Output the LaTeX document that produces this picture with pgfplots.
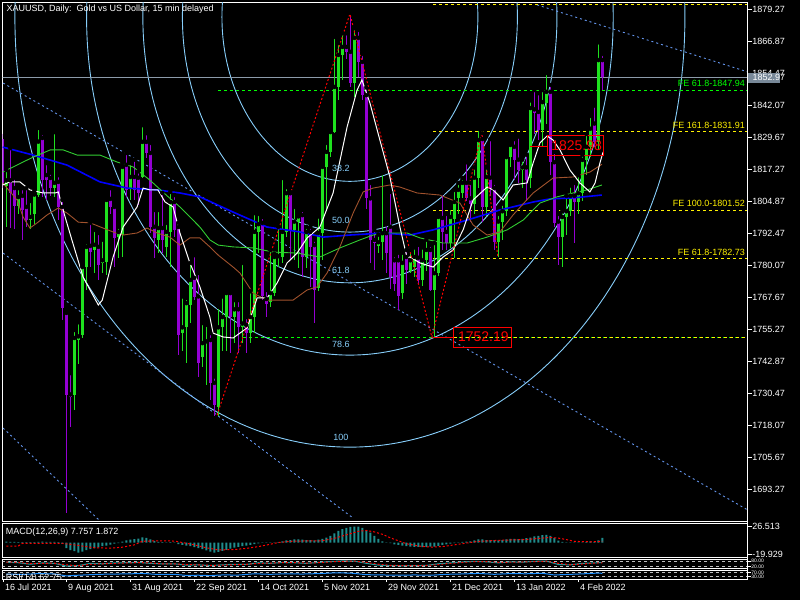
\documentclass[border=0pt]{standalone}
\usepackage{fontspec}
\setmainfont{Liberation Sans}
\usepackage{pgfplots}
\usepackage{pgfplotstable}
\pgfplotsset{compat=1.18}

\definecolor{cup}{RGB}{30,225,30}
\definecolor{cdn}{RGB}{148,0,211}
\definecolor{arcc}{RGB}{135,206,250}
\definecolor{chan}{RGB}{100,149,237}
\definecolor{masienna}{RGB}{160,82,45}
\definecolor{magreen}{RGB}{50,205,50}
\definecolor{mablue}{RGB}{0,0,255}
\definecolor{macdteal}{RGB}{32,140,140}
\definecolor{pricegray}{RGB}{140,155,170}
\definecolor{boxgray}{RGB}{120,136,152}
\definecolor{fegreen}{RGB}{0,255,0}
\definecolor{lvl}{RGB}{190,190,190}
\definecolor{rsiblue}{RGB}{30,144,255}

\newcommand{\ft}{\fontsize{9}{10}\selectfont}
\newcommand{\fs}{\fontsize{5}{5.5}\selectfont}
\newcommand{\fb}{\fontsize{14}{15}\selectfont}

\pgfplotstableread{
i O H L C
0 1811 1817 1795 1813
3 1803 1810 1800 1806.5
6 1797.6 1805 1794 1798.8
7 1800 1809 1796 1807.5
8 1807.5 1833.3 1806.7 1828
12 1810 1831.7 1806.7 1812
17 1729.8 1755 1724 1751.9
18 1751 1758 1742 1752.5
19 1753 1780 1752 1779.4
20 1779.4 1789 1770.5 1787.2
22 1786 1793.8 1777 1788
24 1781 1790 1777 1782
25 1781.3 1806.6 1776.3 1805.4
28 1791 1795 1783 1793
29 1791.8 1819.7 1783.3 1818.2
31 1810 1819.7 1805.4 1814.3
34 1814.3 1834.4 1813.9 1827.9
38 1790 1801.5 1784.8 1794.5
40 1787.2 1796.5 1783.3 1793
41 1793 1808.5 1779.4 1804.6
44 1754 1768 1747 1756
45 1756 1767.4 1742.2 1765.4
46 1764.7 1781 1757.7 1774.4
49 1744.5 1757.7 1740.7 1749.9
50 1750 1757 1733.7 1750.6
53 1725 1764 1721.8 1756
54 1756 1768 1747 1760
55 1760 1770.5 1747 1769.3
57 1760 1766.6 1750 1763
59 1756 1781 1750 1757.5
61 1754 1770 1750 1760
62 1760 1800.3 1754 1793
63 1793 1800 1785 1796
66 1766 1786 1764 1769.3
67 1769.3 1784.5 1768 1783.3
68 1783 1795 1779.4 1783.6
69 1783.3 1813.9 1781 1793
70 1793 1810.4 1791 1808
72 1793.8 1802.7 1782.1 1797
73 1797 1800 1779 1799
75 1783.3 1795 1779 1793
78 1771.3 1799 1770 1792.6
79 1792.6 1819.7 1782 1818.2
80 1818 1827.5 1801.5 1824
81 1824 1832.9 1822 1831.7
82 1831.7 1868.6 1831.3 1849.2
83 1849.2 1866.2 1844.1 1861.6
84 1861.6 1870 1851.9 1864.7
87 1850.7 1872 1845.3 1868.2
93 1787.6 1792 1785 1789
94 1789 1815.8 1782 1792.5
99 1769.3 1785 1767 1781
101 1778 1786 1777 1782
102 1779.4 1787 1775.6 1783.3
104 1774.4 1787 1772 1782
105 1782 1790 1778 1786
107 1770.5 1788.7 1752.2 1777
108 1777 1800 1776 1798.8
111 1788.7 1802.3 1786.8 1798.8
112 1798 1809.3 1782.9 1804.6
113 1806 1812 1800 1809.3
114 1808 1813.9 1806 1812
117 1804 1818 1800 1814
118 1814 1833 1810 1828.6
120 1802.7 1818 1799 1814.3
123 1789 1800 1783.3 1797
124 1797 1804 1790 1801
125 1801 1823 1799 1822
126 1822 1828 1818 1826.7
129 1817 1821 1810 1818
131 1814 1844 1810 1841
134 1832.5 1848 1826 1843.3
135 1843 1854.6 1835 1847.3
139 1791 1801 1779.4 1798.8
140 1798.8 1807 1792 1801
141 1801 1811 1799 1807
143 1804.5 1815 1800 1808
144 1808 1823 1805 1820.9
145 1820.9 1831 1815 1826
146 1826 1838 1822 1833
148 1828 1866.5 1825 1859.6
}\bull

\pgfplotstableread{
i O H L C
-1 1829 1831 1810 1812
1 1813 1825.5 1794.5 1808
2 1810 1814 1794 1803
4 1807 1810 1790 1801.5
5 1802.7 1810 1795 1797.6
9 1829.4 1831.3 1806.7 1813
10 1815 1819.7 1805.4 1813
11 1813.9 1816 1807 1810
13 1812.4 1815 1797.6 1802.7
14 1802.7 1805.4 1758.9 1763.5
15 1761.6 1762 1684 1729.8
16 1730 1738.3 1717.4 1729
21 1787.6 1796.5 1779.4 1785.2
23 1787.2 1792.6 1774.4 1780.2
26 1805.8 1810 1800 1802.7
27 1802.7 1803.5 1779.4 1790.7
30 1819 1823.6 1806.7 1809.3
32 1814.3 1821 1805.4 1809.3
33 1814 1816.5 1803.5 1808
35 1827.9 1831.3 1821.6 1823.6
36 1823.6 1827.5 1792.6 1795
37 1795 1801.5 1782.9 1790.7
39 1794.5 1808.1 1784.8 1790
42 1804.6 1807.3 1791 1793.8
43 1794.9 1796.5 1745.3 1753
47 1775.2 1784 1766.6 1767.8
48 1768 1777.1 1736.8 1742.2
51 1751.1 1753.8 1727.9 1734.5
52 1734.5 1737 1721.5 1726
56 1769.3 1770 1746 1760
58 1763 1766.6 1746 1756
60 1757 1760 1746 1754
64 1796.5 1798.8 1766.6 1768
65 1767 1770.5 1760 1765
71 1808 1808.5 1782.1 1793.8
74 1799.5 1801.5 1775.6 1783.3
76 1793 1795 1771.7 1787.2
77 1787.9 1790 1757.7 1770.5
85 1864.7 1870 1860 1862.8
86 1862.8 1877.9 1849.2 1850.7
88 1868.2 1871.3 1853 1858.9
89 1858.9 1862 1844 1846
90 1846 1849 1802 1806
91 1806 1812 1781 1789.9
92 1789.9 1793.8 1778.2 1788.7
95 1792.5 1796 1777 1785
96 1795 1808.5 1771 1775.6
97 1782 1784 1770 1773
98 1782 1785 1762.7 1768
100 1783.3 1786 1773 1778.2
103 1783 1788 1773 1774.4
106 1786 1788 1770 1770.5
109 1798.4 1808 1786 1793
110 1793 1800 1786 1788.7
115 1812 1820 1805 1806
116 1806 1812 1797 1804
119 1829 1831.3 1797 1802.7
121 1814 1829 1807 1810
122 1810 1812 1786 1789
127 1826 1829 1813 1821
128 1821 1830 1812 1817
130 1818 1823 1805 1813
132 1840.5 1848 1831 1839
133 1839.5 1846.8 1828.6 1832.5
136 1847.3 1850 1815 1820
137 1820 1824 1795 1796.5
138 1797 1800 1780 1791
142 1807 1812 1788.7 1804.5
147 1835 1842 1826 1828
149 1859.6 1862 1848 1852.97
}\bear

\pgfplotsset{
  mt/.style={
    scale only axis, width=745pt, xmin=-0.9, xmax=185.35,
    axis line style={white, line width=0.8pt},
    tick style={white, line width=0.8pt},
    tick align=outside, major tick length=4pt,
    ytick pos=right, yticklabel pos=right,
    yticklabel style={font=\ft, text=white, anchor=west, inner sep=0.5pt},
    xtick=\empty, clip=true,
  },
  wick/.style={only marks, mark=none, error bars/.cd, y dir=minus, y explicit, error mark=none,
    error bar style={line width=1pt, color=#1}},
  body/.style={only marks, mark=none, error bars/.cd, y dir=minus, y explicit, error mark=none,
    error bar style={line width=3pt, color=#1}},
}

\begin{document}
\begin{tikzpicture}[x=1pt,y=1pt]
\fill[black] (0,0) rectangle (800,600);
\useasboundingbox (0,0) rectangle (800,600);

% ===== main price panel =====
\begin{axis}[mt, at={(2.7pt,78.3pt)}, anchor=south west, height=519pt,
  ymin=1680.7, ymax=1881.85,
  ytick={1693.27,1705.67,1718.07,1730.47,1742.87,1755.27,1767.67,1780.07,1792.47,1804.87,1817.27,1829.67,1842.07,1854.47,1866.87,1879.27},
  yticklabels={1693.27,1705.67,1718.07,1730.47,1742.87,1755.27,1767.67,1780.07,1792.47,1804.87,1817.27,1829.67,1842.07,1854.47,1866.87,1879.27},
]
% Fibonacci arcs
\draw[arcc, line width=0.9pt] (axis cs:85.9,1876.3) ellipse [x radius=31.99, y radius=63.68];
\draw[arcc, line width=0.9pt] (axis cs:85.9,1876.3) ellipse [x radius=41.875, y radius=83.35];
\draw[arcc, line width=0.9pt] (axis cs:85.9,1876.3) ellipse [x radius=51.76, y radius=103.02];
\draw[arcc, line width=0.9pt] (axis cs:85.9,1876.3) ellipse [x radius=65.83, y radius=131.03];
\draw[arcc, line width=0.9pt] (axis cs:85.9,1876.3) ellipse [x radius=83.75, y radius=166.7];
% channel lines
\addplot[chan, line width=0.9pt, dash pattern=on 2pt off 3pt] coordinates {(-0.8,1850.7) (185.4,1685.2)};
\addplot[chan, line width=0.9pt, dash pattern=on 2pt off 3pt] coordinates {(-0.8,1784.8) (86.7,1682.1)};
\addplot[chan, line width=0.9pt, dash pattern=on 2pt off 3pt] coordinates {(-0.8,1717) (23.4,1681)};
\addplot[chan, line width=0.9pt, dash pattern=on 2pt off 3pt] coordinates {(132.7,1881) (185.4,1855)};
% current price line
\addplot[pricegray, line width=0.9pt] coordinates {(-1,1852.97) (186,1852.97)};
% Fibonacci expansion levels
\addplot[fegreen, line width=0.9pt, dash pattern=on 3pt off 3pt] coordinates {(52.9,1847.94) (186,1847.94)};
\addplot[fegreen, line width=0.9pt, dash pattern=on 3pt off 3pt] coordinates {(59.2,1752.19) (186,1752.19)};
\addplot[yellow, line width=0.9pt, dash pattern=on 3pt off 3pt, dash phase=3pt] coordinates {(106.7,1752.19) (186,1752.19)};
\addplot[yellow, line width=0.9pt, dash pattern=on 3pt off 3pt] coordinates {(106.7,1782.73) (186,1782.73)};
\addplot[yellow, line width=0.9pt, dash pattern=on 3pt off 3pt] coordinates {(106.7,1801.52) (186,1801.52)};
\addplot[yellow, line width=0.9pt, dash pattern=on 3pt off 3pt] coordinates {(106.7,1831.91) (186,1831.91)};
\addplot[yellow, line width=0.9pt, dash pattern=on 3pt off 3pt] coordinates {(106.7,1881.1) (186,1881.1)};
% candles
\addplot[wick=cup] table[x=i, y=H, y error expr=\thisrow{H}-\thisrow{L}] {\bull};
\addplot[body=cup] table[x=i, y=C, y error expr=\thisrow{C}-\thisrow{O}] {\bull};
\addplot[wick=cdn] table[x=i, y=H, y error expr=\thisrow{H}-\thisrow{L}] {\bear};
\addplot[body=cdn] table[x=i, y=O, y error expr=\thisrow{O}-\thisrow{C}] {\bear};
% moving averages
\addplot[mablue, line width=1.6pt] coordinates {(-0.9,1825.9) (6.7,1822.8) (15.2,1818.9) (23.4,1812.4) (30.2,1810) (37.7,1809.3) (43.4,1808.1) (48.4,1806.6) (56.7,1800.7) (65.2,1794.9) (73.4,1793) (79.2,1791) (85.9,1791.8) (94.2,1792.6) (100.9,1791.8) (106.7,1793.8) (115.2,1797.6) (123.4,1801.5) (131.7,1804.6) (135.9,1805.8) (141.7,1806.2) (148.9,1807.3)};
\addplot[magreen, line width=0.9pt] coordinates {(-0.9,1816.2) (6.7,1822) (11,1824.8) (14.2,1824.8) (17.7,1822.8) (23.4,1822.8) (27.7,1820.1) (31.7,1818.2) (35.9,1813.1) (40.2,1807) (43.4,1802.7) (48.4,1794.9) (50.9,1789.9) (53,1787.9) (56.7,1787.2) (61.7,1786.8) (66.7,1785.2) (72.7,1784.8) (78.4,1783.3) (83.4,1786.8) (88.4,1789.9) (91.7,1791.8) (95.2,1792.6) (100.2,1792.6) (103.4,1790.7) (109.2,1788.7) (115.2,1788.7) (120.2,1791) (125.2,1793.8) (129.2,1797.6) (133.4,1804.2) (137.7,1806.6) (141.7,1808.1) (145.2,1809.3) (148.9,1811.2)};
\addplot[masienna, line width=0.9pt] coordinates {(-0.9,1812) (2.7,1805.4) (4.2,1798.8) (5.9,1794.5) (7.7,1796.5) (10.2,1799.6) (13,1802.3) (15.2,1800.3) (18,1796.8) (21,1796.5) (24.2,1794.5) (26.7,1793) (29.2,1791.8) (32.7,1792.6) (35.2,1794.5) (37.7,1792.6) (40.9,1791) (43.4,1787.9) (45.9,1790.7) (48.4,1790.7) (50.9,1787.2) (53,1784) (56.7,1779.4) (58.4,1777.1) (61.7,1769.3) (65.2,1766.6) (71.7,1766.6) (75.2,1770.5) (77.7,1771.7) (80.2,1777.1) (83.4,1787.2) (86.7,1800.3) (89.2,1808.5) (91.7,1810) (95.9,1811.2) (98.4,1810.4) (102.7,1808.1) (108.4,1807.3) (113.4,1804.2) (116.7,1795.7) (120.2,1791.8) (123.4,1793) (126.7,1799.6) (131.7,1808.1) (136.7,1813.9) (141.7,1814.3) (145.9,1816.2) (148.9,1819.2)};
\addplot[white, line width=1pt] coordinates {(-0.9,1811.2) (0.9,1812.4) (3.4,1812.4) (5.9,1809.3) (9.2,1808.1) (12.2,1808.1) (13,1808.5) (14.7,1798.8) (16.4,1789.9) (19.2,1775.5) (23,1764.7) (24,1766.6) (26.7,1783.3) (29.2,1794.9) (32.7,1802.7) (34.2,1810) (35.9,1809.3) (37.9,1809.3) (39.7,1804.6) (41.7,1802.7) (43.4,1792.6) (45.9,1781) (48.4,1771.7) (50.9,1760) (51.7,1753.8) (54.2,1752.3) (56.7,1751.9) (60.2,1755.8) (62.7,1767.4) (65.2,1767.4) (67.7,1773.2) (70.2,1781) (72.7,1784.8) (75.2,1790.7) (78.4,1794.9) (81.7,1808.1) (85.2,1833.7) (87.7,1848) (88.9,1851.9) (90.9,1843) (93.4,1828.6) (95.9,1814.3) (98.4,1794.9) (100.2,1782.9) (100.9,1783.3) (103.4,1781) (106.7,1779.4) (109.2,1783.3) (111.7,1786) (114.2,1793.8) (116.7,1805.4) (120.2,1810.4) (121.7,1809.3) (124.2,1805.4) (126.7,1811.2) (130.2,1812) (131.7,1819.7) (133.4,1827.5) (135.2,1830.2) (136.7,1828.6) (138.4,1824.8) (140.9,1817) (143.4,1812) (145.9,1808.5) (147.2,1812) (148.4,1819.7) (149.2,1824)};
% zigzag
\addplot[red, line width=1pt, dash pattern=on 2pt off 2pt] coordinates {(52.7,1722) (85.9,1877.5) (106.4,1752.19) (118.9,1831.3) (122.9,1783.3)};
% price labels with leader lines
\addplot[red, line width=1pt] coordinates {(106.7,1752.19) (111.9,1752.19)};
\addplot[red, line width=1pt] coordinates {(130.9,1825.98) (135.2,1825.98)};
\draw[red, line width=1pt] (axis cs:111.9,1756.16) rectangle (axis cs:126.4,1748.4);
\draw[red, line width=1pt] (axis cs:135.2,1830.2) rectangle (axis cs:149.3,1822.8);
\node[anchor=west, inner sep=0pt, text=red, font=\fb] at (axis cs:112.9,1752.3) {1752.19};
\node[anchor=west, inner sep=0pt, text=red, font=\fb] at (axis cs:136.2,1826.5) {1825.98};
% arc labels
\node[anchor=west, inner sep=0pt, text=arcc, font=\ft] at (axis cs:81.4,1817.6) {38.2};
\node[anchor=west, inner sep=0pt, text=arcc, font=\ft] at (axis cs:81.4,1797.6) {50.0};
\node[anchor=west, inner sep=0pt, text=arcc, font=\ft] at (axis cs:81.4,1778.2) {61.8};
\node[anchor=west, inner sep=0pt, text=arcc, font=\ft] at (axis cs:81.4,1749.6) {78.6};
\node[anchor=west, inner sep=0pt, text=arcc, font=\ft] at (axis cs:81.7,1713.5) {100};
% FE labels
\node[anchor=south east, inner sep=0pt, text=fegreen, font=\ft] at (axis cs:184.7,1849.1) {FE 61.8-1847.94};
\node[anchor=south east, inner sep=0pt, text=yellow, font=\ft] at (axis cs:184.7,1833.1) {FE 161.8-1831.91};
\node[anchor=south east, inner sep=0pt, text=yellow, font=\ft] at (axis cs:184.7,1802.7) {FE 100.0-1801.52};
\node[anchor=south east, inner sep=0pt, text=yellow, font=\ft] at (axis cs:184.7,1783.9) {FE 61.8-1782.73};
% title
\node[anchor=west, inner sep=0pt, text=white, font=\ft] at (rel axis cs:0.005,0.987) {XAUUSD, Daily:\ \ Gold vs US Dollar, 15 min delayed};
\end{axis}

% ===== MACD panel =====
\begin{axis}[mt, at={(2.7pt,42.3pt)}, anchor=south west, height=34.4pt,
  ymin=-25.8, ymax=32.6, ytick={-19.929,26.513}, yticklabels={-19.929,26.513}]
\addplot[ybar, bar width=2pt, fill=macdteal, draw=none] coordinates {
(0,1.5)(1,1.2)(2,1)(3,0.8)(4,0.6)(5,0.5)(6,0.5)(7,0.6)(8,1.2)(9,1.3)(10,1.2)(11,1)(12,0.9)(13,0.6)(14,-2.5)
(15,-9.4)(16,-13)(17,-14.6)(18,-17.2)(19,-15.6)(20,-13)(21,-11.4)(22,-9.4)(23,-8.3)(24,-6.2)(25,-5.2)(26,-3.6)(27,-2)(28,-1)(29,1.6)
(30,3.6)(31,4.7)(32,5.7)(33,6.8)(34,8.8)(35,7.8)(36,5.2)(37,2.6)(38,1)(39,0.5)(40,0.3)(41,0.5)(42,-0.5)(43,-2.6)(44,-4.2)
(45,-5.2)(46,-6.2)(47,-7.8)(48,-9.4)(49,-11.4)(50,-13.5)(51,-15.6)(52,-17.2)(53,-16)(54,-14)(55,-12.5)(56,-10.4)(57,-8.8)(58,-7.3)(59,-6.2)
(60,-5.2)(61,-4.2)(62,-2.6)(63,-1.6)(64,-0.5)(65,-0.5)(66,0.3)(67,0.3)(68,0.5)(69,2)(70,3.6)(71,4.2)(72,5.2)(73,5.2)(74,4.7)
(75,4.2)(76,4.2)(77,3.6)(78,4.7)(79,6.2)(80,8.3)(81,11.4)(82,15.6)(83,19.8)(84,22.9)(85,25)(86,26.5)(87,27)(88,27)(89,25)
(90,20.8)(91,16.6)(92,11.4)(93,6.2)(94,2)(95,0.3)(96,-1)(97,-3.1)(98,-4.2)(99,-5.2)(100,-6.2)(101,-6.8)(102,-7.3)(103,-7.3)(104,-7.8)
(105,-7.3)(106,-6.8)(107,-6.8)(108,-5.7)(109,-4.2)(110,-3.1)(111,-2)(112,-1)(113,0.3)(114,1)(115,1.6)(116,2)(117,3.6)(118,5.2)(119,5.2)
(120,4.2)(121,4.2)(122,4.2)(123,3.6)(124,4.2)(125,5.2)(126,6.2)(127,6.2)(128,5.7)(129,6.2)(130,7.3)(131,8.3)(132,10.4)(133,11.4)(134,12.5)
(135,13)(136,11.4)(137,7.8)(138,3.1)(139,1)(140,0.3)(141,0.3)(142,-0.5)(143,-0.5)(144,0.3)(145,0.5)(146,2)(147,1)(148,3.6)(149,7.757)};
\addplot[red, line width=1pt, dash pattern=on 2pt off 2pt] coordinates {
(0,-6)(3,-6)(4,-1.5)(14,-1.5)(17,-4)(20,-7)(22,-9)(26,-9.5)(29,-8)(32,-4)(34,2)(38,3)(42,2.5)(44,0)(47,-4)(50,-9)(53,-12.5)(57,-12)(60,-10)(63,-7)(66,-3)(68,0)(72,2.5)(76,2.6)(79,3)(82,7)(85,13)(88,19)(90,20.5)(92,18)(94,14)(96,8)(98,3)(100,-2)(103,-6)(106,-7.8)(109,-7)(112,-4)(115,-1)(118,2)(121,3)(124,4)(127,4.5)(130,5)(133,7)(136,8.5)(138,7.5)(140,5)(142,2)(144,1.5)(146,1.2)(149,1.872)};
\node[anchor=west, inner sep=0pt, text=white, font=\ft] at (rel axis cs:0.004,0.73) {MACD(12,26,9) 7.757 1.872};
\end{axis}

% ===== Stochastic panel =====
\begin{axis}[mt, at={(2.7pt,31.7pt)}, anchor=south west, height=9pt,
  ymin=0, ymax=100, ytick={20,80}, yticklabels={20.00,80.00},
  yticklabel style={font=\fs}, major tick length=3pt]
\addplot[lvl, line width=0.8pt, dash pattern=on 3pt off 3pt] coordinates {(-1,80) (186,80)};
\addplot[lvl, line width=0.8pt, dash pattern=on 3pt off 3pt] coordinates {(-1,20) (186,20)};
\addplot[macdteal!80!cyan, line width=1pt] coordinates {(0,68)(3,62)(6,45)(9,60)(12,55)(15,25)(18,30)(21,55)(24,50)(27,60)(30,62)(33,65)(36,55)(39,48)(42,50)(45,35)(48,38)(51,30)(54,38)(57,45)(60,42)(63,62)(66,55)(69,65)(72,62)(75,55)(78,65)(81,75)(84,82)(87,80)(90,55)(93,35)(96,30)(99,28)(102,30)(105,32)(108,50)(111,60)(114,70)(117,78)(120,72)(123,60)(126,72)(129,68)(132,78)(135,80)(138,42)(141,38)(144,55)(147,60)(149,65)};
\addplot[red, line width=1pt, dash pattern=on 2pt off 2pt] coordinates {(0,70)(3,65)(6,52)(9,55)(12,57)(15,38)(18,28)(21,45)(24,50)(27,55)(30,60)(33,63)(36,60)(39,50)(42,50)(45,42)(48,38)(51,33)(54,35)(57,40)(60,44)(63,55)(66,58)(69,62)(72,63)(75,58)(78,62)(81,72)(84,78)(87,80)(90,65)(93,45)(96,33)(99,30)(102,29)(105,31)(108,42)(111,55)(114,65)(117,74)(120,75)(123,65)(126,68)(129,70)(132,74)(135,79)(138,55)(141,40)(144,48)(147,57)(149,62)};
\end{axis}

% ===== RSI panel =====
\begin{axis}[mt, at={(2.7pt,21pt)}, anchor=south west, height=9pt,
  ymin=0, ymax=100, ytick={30,70}, yticklabels={30.00,70.00},
  yticklabel style={font=\fs}, major tick length=3pt,
  xtick={-0.825,14.925,30.925,46.925,62.925,78.925,94.925,110.925,126.925,142.925},
  xticklabels={16 Jul 2021,9 Aug 2021,31 Aug 2021,22 Sep 2021,14 Oct 2021,5 Nov 2021,29 Nov 2021,21 Dec 2021,13 Jan 2022,4 Feb 2022},
  xtick pos=bottom,
  xticklabel style={font=\ft, text=white, anchor=north west, inner sep=0pt, xshift=2pt, yshift=-2pt}]
\addplot[lvl, line width=0.8pt, dash pattern=on 3pt off 3pt] coordinates {(-1,70) (186,70)};
\addplot[lvl, line width=0.8pt, dash pattern=on 3pt off 3pt] coordinates {(-1,30) (186,30)};
\addplot[rsiblue, line width=1pt] coordinates {(0,55)(4,50)(8,60)(12,56)(15,35)(18,42)(22,50)(26,55)(30,56)(34,62)(38,50)(42,52)(45,40)(48,42)(51,38)(54,45)(58,44)(62,58)(66,52)(70,58)(74,55)(78,60)(82,68)(86,66)(90,48)(94,45)(98,42)(102,45)(106,42)(110,52)(114,56)(118,62)(122,52)(126,60)(130,58)(134,64)(137,45)(140,50)(144,57)(148,66)(149,62.75)};
\node[anchor=west, inner sep=0pt, text=white, font=\ft] at (rel axis cs:0.004,0.1) {RSI(14) 62.75};
\end{axis}

% right scale separator and current price box
\draw[white, line width=0.8pt] (747.7,21) -- (747.7,597.3);
\fill[boxgray] (748,517.3) rectangle (780,527.3);
\node[anchor=west, inner sep=0pt, text=white, font=\ft] at (752.5,522.3) {1852.97};
\end{tikzpicture}
\end{document}
